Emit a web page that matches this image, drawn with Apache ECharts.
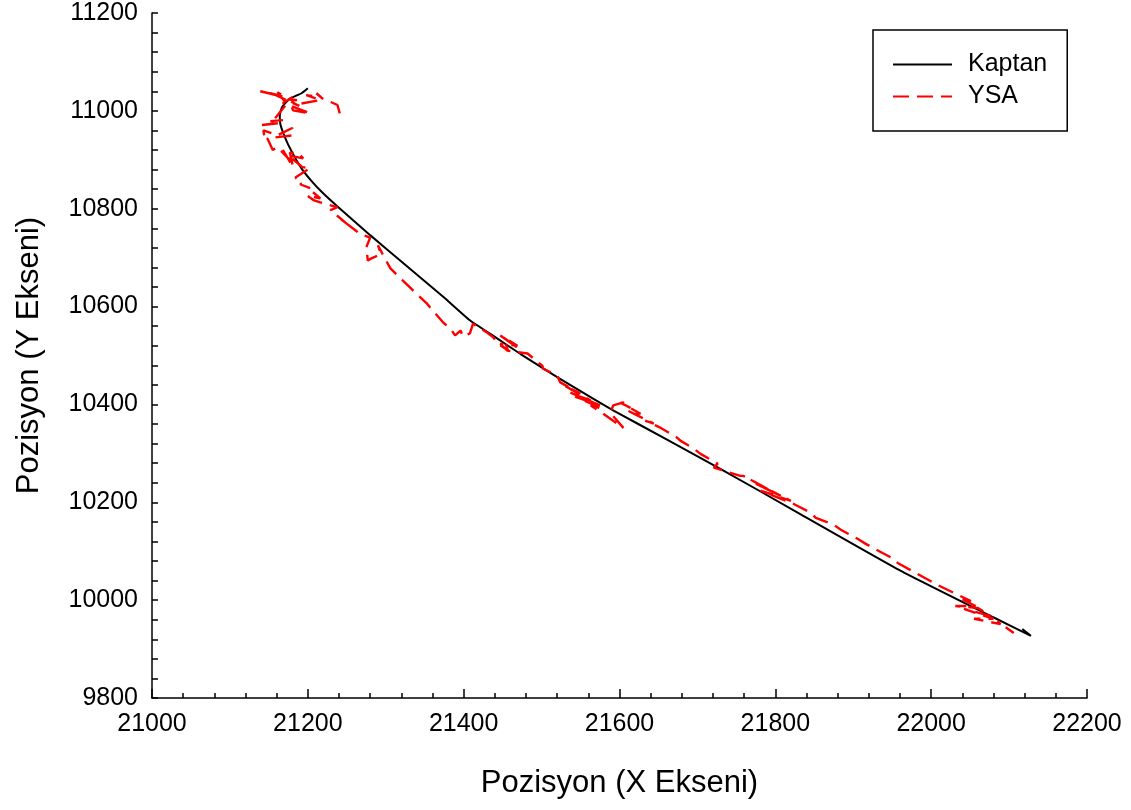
<!DOCTYPE html>
<html>
<head>
<meta charset="utf-8">
<title>Pozisyon</title>
<script src="https://cdn.jsdelivr.net/npm/echarts@6/dist/echarts.min.js"></script>
<style>
  html, body { margin: 0; padding: 0; background: #fff; }
  #chart { width: 1131px; height: 810px; }
</style>
</head>
<body>
<div id="chart"></div>
<script>
// Captain's trajectory (X, Y positions)
const kaptanX = [21200, 21192, 21177, 21167, 21164, 21165, 21173, 21182, 21192, 21204,
  21218, 21237, 21280, 21312, 21344, 21376, 21408, 21441, 21473, 21520,
  21565, 21593, 21661, 21730, 21832, 21961, 22081, 22128, 22117];
const kaptanY = [11046, 11036, 11025, 11008, 10991, 10971, 10937, 10909, 10882, 10858,
  10834, 10806, 10746, 10703, 10660, 10617, 10572, 10537, 10503, 10456,
  10413, 10387, 10328, 10268, 10176, 10060, 9964, 9927, 9941];

// Neural network (YSA) predicted trajectory
const ysaX = [21241, 21238, 21218, 21211, 21217, 21198, 21216, 21188, 21177, 21186,
  21170, 21161, 21171, 21152, 21161, 21139, 21159, 21189, 21177, 21181,
  21203, 21168, 21180, 21158, 21168, 21152, 21164, 21141, 21144, 21143,
  21161, 21180, 21181, 21148, 21155, 21161, 21177, 21168, 21181, 21177,
  21188, 21194, 21175, 21193, 21203, 21184, 21193, 21190, 21203, 21199,
  21216, 21199, 21208, 21216, 21238, 21229, 21248, 21241, 21261, 21267,
  21280, 21275, 21277, 21281, 21294, 21290, 21299, 21306, 21322, 21335,
  21353, 21357, 21374, 21383, 21389, 21396, 21399, 21408, 21412, 21430,
  21438, 21444, 21457, 21451, 21469, 21447, 21469, 21447, 21456, 21482,
  21501, 21502, 21520, 21524, 21550, 21530, 21563, 21537, 21575, 21543,
  21579, 21563, 21579, 21605, 21588, 21592, 21605, 21614, 21601, 21627,
  21611, 21644, 21633, 21653, 21674, 21678, 21695, 21704, 21726, 21721,
  21733, 21755, 21759, 21794, 21766, 21807, 21775, 21820, 21781, 21823,
  21845, 21852, 21875, 21884, 21906, 21916, 21952, 21957, 21999, 22003,
  22051, 22038, 22057, 22031, 22060, 22076, 22042, 22080, 22055, 22089,
  22085, 22106];
const ysaY = [10995, 11012, 11026, 11036, 11028, 11032, 11022, 11014, 11024, 11022,
  11020, 11038, 11028, 11036, 11032, 11040, 11032, 11010, 11020, 11001,
  10995, 11016, 11028, 10985, 10981, 10979, 10975, 10971, 10950, 10960,
  10950, 10965, 10950, 10944, 10920, 10926, 10899, 10920, 10885, 10915,
  10913, 10903, 10909, 10885, 10883, 10864, 10852, 10850, 10842, 10844,
  10821, 10827, 10817, 10813, 10803, 10797, 10772, 10780, 10756, 10748,
  10741, 10721, 10694, 10698, 10707, 10725, 10698, 10678, 10653, 10633,
  10606, 10598, 10567, 10555, 10541, 10551, 10539, 10545, 10565, 10547,
  10537, 10524, 10510, 10537, 10516, 10541, 10520, 10524, 10510, 10504,
  10479, 10473, 10459, 10445, 10422, 10438, 10408, 10424, 10398, 10416,
  10391, 10398, 10381, 10352, 10383, 10398, 10404, 10393, 10404, 10381,
  10387, 10361, 10367, 10352, 10332, 10326, 10310, 10299, 10279, 10271,
  10265, 10254, 10254, 10224, 10248, 10213, 10238, 10203, 10224, 10197,
  10179, 10168, 10154, 10144, 10125, 10115, 10084, 10076, 10039, 10035,
  9998, 10003, 9988, 9988, 9984, 9968, 9982, 9962, 9962, 9951,
  9957, 9933];

const seriesNames = ['Kaptan', 'YSA'];
const xTitle = 'Pozisyon (X Ekseni)';
const yTitle = 'Pozisyon (Y Ekseni)';

const pairs = (xs, ys) => xs.map((x, i) => [x, ys[i]]);
const FONT = '"Liberation Sans", Arial, Helvetica, sans-serif';
const plain = (v) => String(v);

const chart = echarts.init(document.getElementById('chart'), null, { renderer: 'canvas' });

chart.setOption({
  animation: false,
  backgroundColor: '#ffffff',
  grid: { left: 152, right: 44, top: 13, bottom: 112, containLabel: false },
  legend: {
    data: seriesNames,
    orient: 'vertical',
    left: 873,
    top: 30,
    padding: [22, 20, 22, 19],
    borderColor: '#000',
    borderWidth: 1.5,
    itemWidth: 59,
    itemHeight: 25,
    itemGap: 7,
    itemStyle: { opacity: 0 },
    textStyle: { color: '#000', fontSize: 25, fontFamily: FONT, padding: [0, 0, 0, 11] }
  },
  xAxis: {
    type: 'value',
    min: 21000,
    max: 22200,
    interval: 200,
    name: xTitle,
    nameLocation: 'middle',
    nameGap: 70,
    nameTextStyle: { color: '#000', fontSize: 31, fontFamily: FONT },
    axisLine: { show: true, onZero: false, lineStyle: { color: '#000', width: 1.5 } },
    axisTick: { show: true, inside: true, length: 9, lineStyle: { color: '#000', width: 1.5 } },
    minorTick: { show: true, splitNumber: 5, length: 5, lineStyle: { color: '#000', width: 1.5 } },
    axisLabel: { color: '#000', fontSize: 25, fontFamily: FONT, margin: 14, formatter: plain },
    splitLine: { show: false }
  },
  yAxis: {
    type: 'value',
    min: 9800,
    max: 11200,
    interval: 200,
    name: yTitle,
    nameLocation: 'middle',
    nameGap: 107,
    nameTextStyle: { color: '#000', fontSize: 31, fontFamily: FONT },
    axisLine: { show: true, onZero: false, lineStyle: { color: '#000', width: 1.5 } },
    axisTick: { show: true, inside: true, length: 6, lineStyle: { color: '#000', width: 1.5 } },
    minorTick: { show: true, splitNumber: 5, length: 6, lineStyle: { color: '#000', width: 1.5 } },
    axisLabel: { color: '#000', fontSize: 25, fontFamily: FONT, margin: 14, formatter: plain },
    splitLine: { show: false }
  },
  series: [
    {
      name: seriesNames[0],
      type: 'line',
      data: pairs(kaptanX, kaptanY),
      symbol: 'none',
      showSymbol: false,
      smooth: 0.15,
      lineStyle: { color: '#000000', width: 2 },
      itemStyle: { color: '#000000' },
      z: 2
    },
    {
      name: seriesNames[1],
      type: 'line',
      data: pairs(ysaX, ysaY),
      symbol: 'none',
      showSymbol: false,
      smooth: false,
      lineStyle: { color: '#ff0000', width: 2.4, type: [16, 8] },
      itemStyle: { color: '#ff0000' },
      z: 3
    }
  ]
});
</script>
</body>
</html>
